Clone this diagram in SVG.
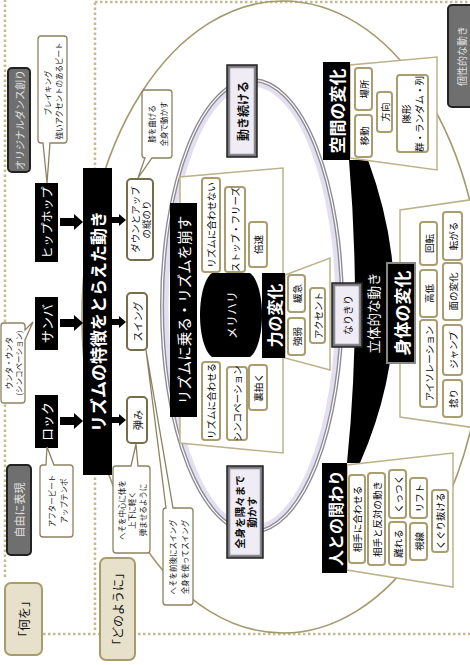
<svg xmlns="http://www.w3.org/2000/svg" width="470" height="665" viewBox="0 0 470 665">
<style>
text{font-family:"Noto Sans CJK JP","Noto Sans",sans-serif;text-anchor:middle;dominant-baseline:central}
.dot{fill:none;stroke:#c4ba92;stroke-width:2.5;stroke-dasharray:2.5 2.5}
.hdr{fill:#e7e1cb;stroke:#a99c6c;stroke-width:2}
.gray{fill:#6f6f6f;stroke:#222;stroke-width:2}
.blk{fill:#000}
.sub{fill:#fff;stroke:#776c4c;stroke-width:2}
.item{fill:#fff;stroke:#aa9d6f;stroke-width:2}
.trap{fill:#fff;stroke:#bcb28a;stroke-width:1.5}
.call{fill:#fff;stroke:#8c8262;stroke-width:1.3}
.b3d{fill:#77757e;stroke:#222;stroke-width:1.5}
.b3di{fill:#f0ecf6;stroke:#aaa;stroke-width:0.8}
.w{fill:#fff}
.lg{fill:#e2e2e2}
.k{fill:#111}
.f7{font-size:7.5px}.f9{font-size:9.5px}.f10{font-size:10px}.f11{font-size:11px}.f12{font-size:12px}.f13{font-size:13px}.f16{font-size:16px;font-weight:bold}.f17{font-size:17px;font-weight:bold}
.b{font-weight:bold}
</style>
<g transform="translate(0,665) rotate(-90)">
<g id="grid">
<line class="dot" x1="88" y1="5" x2="665" y2="5"/>
<line class="dot" x1="35" y1="95" x2="665" y2="95"/>
<line class="dot" x1="31" y1="43" x2="31" y2="470"/>
<line class="dot" x1="663" y1="95" x2="663" y2="470"/>
</g>
<g id="outer-ellipse"><ellipse cx="348" cy="283" rx="316" ry="201" fill="none" stroke="#a39a6e" stroke-width="1.6"/></g>
<g id="inner-ellipse">
<ellipse cx="359" cy="252" rx="222" ry="86" fill="none" stroke="#e4dff0" stroke-width="5"/>
<ellipse cx="359" cy="252" rx="226" ry="90" fill="none" stroke="#8e8c94" stroke-width="4"/>
<ellipse cx="359" cy="252" rx="226" ry="90" fill="none" stroke="#fff" stroke-width="1.2"/>
</g>
<g id="connectors">
<rect x="439" y="60" width="8" height="15" class="blk"/><polygon points="435,74 451,74 443,83" class="blk"/>
<rect x="338" y="60" width="8" height="15" class="blk"/><polygon points="334,74 350,74 342,83" class="blk"/>
<rect x="240" y="60" width="8" height="15" class="blk"/><polygon points="236,74 252,74 244,83" class="blk"/>
<rect x="442" y="112" width="6" height="8" class="blk"/><polygon points="439,119 451,119 445,126" class="blk"/>
<rect x="340" y="112" width="6" height="8" class="blk"/><polygon points="337,119 349,119 343,126" class="blk"/>
<rect x="242" y="112" width="6" height="8" class="blk"/><polygon points="239,119 251,119 245,126" class="blk"/>
</g>
<g id="rhythm-group">
<polygon class="trap" points="222,180 488,180 497,283 212,283"/>
<rect class="item" x="393" y="202" width="94" height="18" rx="3"/><text class="f9" x="440" y="211">リズムに合わせない</text>
<rect class="item" x="393" y="225" width="85" height="20" rx="3"/><text class="f9" x="435.5" y="235">ストップ・フリーズ</text>
<rect class="item" x="398" y="249" width="45" height="18" rx="3"/><text class="f9" x="420.5" y="258">倍速</text>
<rect class="item" x="225" y="202" width="78" height="18" rx="3"/><text class="f9" x="264" y="211">リズムに合わせる</text>
<rect class="item" x="225" y="227" width="73" height="20" rx="3"/><text class="f9" x="261.5" y="237">シンコペーション</text>
<rect class="item" x="255" y="249" width="45" height="18" rx="3"/><text class="f9" x="277.5" y="258">裏拍く</text>
<rect class="blk" x="248" y="170" width="214" height="27"/><text class="w" style="font-size:14.5px" x="355" y="183.5">リズムに乗る・リズムを崩す</text>
</g>
<g id="merihari"><path class="blk" d="M308,212 C320,196 380,196 392,212 L392,250 C380,266 320,266 308,250 Z"/><text class="w f12" x="350" y="231">メリハリ</text></g>
<g id="power">
<polygon class="trap" points="307,285 390,285 407,330 295,330"/>
<rect class="item" x="310" y="288" width="37" height="17" rx="3"/><text class="f9" x="328.5" y="296.5">強弱</text>
<rect class="item" x="353" y="288" width="37" height="17" rx="3"/><text class="f9" x="371.5" y="296.5">緩急</text>
<rect class="item" x="322" y="310" width="55" height="15" rx="3"/><text class="f9" x="349.5" y="317.5">アクセント</text>
<rect class="blk" x="307" y="262" width="85" height="23"/><text class="w f16" x="349.5" y="273.5">力の変化</text>
</g>
<g id="band"><path class="blk" d="M505,349 L505,368 Q350,425 202,360 L202,347 Q350,362 505,349 Z"/><text class="w" style="font-size:13.5px" x="352" y="373">立体的な動き</text></g>
<g id="space">
<polygon class="trap" points="507,350 600,350 608,437 495,437"/>
<rect class="item" x="508" y="355" width="42" height="17" rx="3"/><text class="f9" x="529" y="363.5">移動</text>
<rect class="item" x="555" y="355" width="42" height="17" rx="3"/><text class="f9" x="576" y="363.5">場所</text>
<rect class="item" x="533" y="377" width="40" height="15" rx="3"/><text class="f9" x="553" y="384.5">方向</text>
<rect class="item" x="513" y="397" width="77" height="31" rx="3"/><text class="f9" x="551" y="406">隊形</text><text class="f9" x="551" y="419">群・ランダム・列</text>
<rect class="blk" x="505" y="323" width="98" height="27"/><text class="w f17" x="554" y="336.5">空間の変化</text>
</g>
<g id="body">
<polygon class="trap" points="248,400 455,400 466,476 237,476"/>
<rect class="item" x="400" y="420" width="43" height="17" rx="3"/><text class="f9" x="421.5" y="428.5">回転</text>
<rect class="item" x="348" y="420" width="47" height="17" rx="3"/><text class="f9" x="371.5" y="428.5">高低</text>
<rect class="item" x="258" y="420" width="87" height="17" rx="3"/><text class="f9" x="301.5" y="428.5">アイソレーション</text>
<rect class="item" x="405" y="443" width="48" height="19" rx="3"/><text class="f9" x="429" y="452.5">転がる</text>
<rect class="item" x="345" y="443" width="57" height="19" rx="3"/><text class="f9" x="373.5" y="452.5">面の変化</text>
<rect class="item" x="290" y="443" width="50" height="19" rx="3"/><text class="f9" x="315" y="452.5">ジャンプ</text>
<rect class="item" x="248" y="443" width="37" height="19" rx="3"/><text class="f9" x="266.5" y="452.5">捻り</text>
<rect class="blk" x="302" y="387" width="100" height="28" stroke="#888" stroke-width="2"/><text class="w f17" x="352" y="401">身体の変化</text>
</g>
<g id="people">
<polygon class="trap" points="95,347 200,347 212,453 78,453"/>
<rect class="item" x="102" y="349" width="88" height="16" rx="3"/><text class="f9" x="146" y="357">相手に合わせる</text>
<rect class="item" x="100" y="368" width="92" height="17" rx="3"/><text class="f9" x="146" y="376.5">相手と反対の動き</text>
<rect class="item" x="100" y="389" width="43" height="17" rx="3"/><text class="f9" x="121.5" y="397.5">離れる</text>
<rect class="item" x="147" y="389" width="48" height="17" rx="3"/><text class="f9" x="171" y="397.5">くっつく</text>
<rect class="item" x="105" y="410" width="37" height="17" rx="3"/><text class="f9" x="123.5" y="418.5">視線</text>
<rect class="item" x="147" y="410" width="40" height="17" rx="3"/><text class="f9" x="167" y="418.5">リフト</text>
<rect class="item" x="113" y="432" width="62" height="16" rx="3"/><text class="f9" x="144" y="440">くぐり抜ける</text>
<rect class="blk" x="92" y="322" width="110" height="25"/><text class="w f16" x="147" y="334.5">人との関わり</text>
</g>
<g id="keep-moving"><rect class="b3d" x="508" y="227" width="92" height="30"/><rect class="b3di" x="511" y="230" width="86" height="24"/><text class="k f12 b" x="554" y="242">動き続ける</text></g>
<g id="whole-body"><rect class="b3d" x="107" y="227" width="92" height="36"/><rect class="b3di" x="110" y="230" width="86" height="30"/><text class="k b" style="font-size:10.5px" x="153" y="239">全身を隅々まで</text><text class="k b" style="font-size:10.5px" x="153" y="251">動かす</text></g>
<g id="narikiri"><rect class="b3d" x="318" y="332" width="64" height="30"/><rect class="b3di" x="321" y="335" width="58" height="24"/><text class="k f10" x="350" y="347">なりきり</text></g>
<g id="headers">
<rect class="hdr" x="10" y="5" width="72" height="37" rx="6"/><text class="k f12" x="46" y="23.5">「何を」</text>
<rect class="hdr" x="5" y="100" width="102" height="35" rx="6"/><text class="k f12" x="56" y="117.5">「どのように」</text>
</g>
<g id="original"><rect class="gray" x="493" y="8" width="104" height="22" rx="4"/><text class="lg f10" x="545" y="19">オリジナルダンス創り</text></g>
<g id="free"><rect class="gray" x="110" y="7" width="90" height="24" rx="4"/><text class="lg f11" x="155" y="19">自由に表現</text></g>
<g id="individual"><rect class="gray" x="558" y="448" width="102" height="28" rx="4"/><text class="lg f10" x="609" y="461">個性的な動き</text></g>
<g id="hiphop"><rect class="blk" x="403" y="35" width="79" height="23"/><text class="w f12" x="442.5" y="46.5">ヒップホップ</text></g>
<g id="samba"><rect class="blk" x="315" y="35" width="53" height="23"/><text class="w f13" x="341.5" y="46.5">サンバ</text></g>
<g id="rock"><rect class="blk" x="217" y="35" width="53" height="23"/><text class="w f13" x="243.5" y="46.5">ロック</text></g>
<g id="main-bar"><rect class="blk" x="190" y="83" width="307" height="29"/><text class="w f17" x="343.5" y="97.5">リズムの特徴をとらえた動き</text></g>
<g id="downup"><rect class="sub" x="405" y="127" width="81" height="26" rx="4"/><text class="k f9" x="445.5" y="135">ダウンとアップ</text><text class="k f9" x="445.5" y="146">の縦のり</text></g>
<g id="swing"><rect class="sub" x="315" y="127" width="57" height="20" rx="4"/><text class="k f10" x="343.5" y="137">スイング</text></g>
<g id="bounce"><rect class="sub" x="222" y="127" width="46" height="20" rx="4"/><text class="k f10" x="245" y="137">弾み</text></g>
<g id="callout-hiphop"><path class="call" d="M525,38 H626 Q629,38 629,41 V64 Q629,67 626,67 H525 Q522,67 522,64 V50 L482,47 L522,43 V41 Q522,38 525,38 Z"/><text class="k f7" x="572" y="47">ブレイキング</text><text class="k f7" x="574" y="58">強いアクセントのあるビート</text></g>
<g id="callout-samba"><path class="call" d="M265,1 H339 Q342,1 342,4 V22 Q342,25 339,25 H335 L343,33 L325,25 H265 Q262,25 262,22 V4 Q262,1 265,1 Z"/><text class="k f7" x="302" y="8">ウンタ・ウンタ</text><text class="k f7" x="302" y="18">(シンコペーション)</text></g>
<g id="callout-rock"><path class="call" d="M131,40 H197 Q200,40 200,43 V46 L218,47 L200,54 V70 Q200,73 197,73 H131 Q128,73 128,70 V43 Q128,40 131,40 Z"/><text class="k f7" x="164" y="51">アフタービート</text><text class="k f7" x="164" y="63">アップテンポ</text></g>
<g id="callout-downup"><path class="call" d="M510,142 H572 Q575,142 575,145 V169 Q575,172 572,172 H510 Q507,172 507,169 V152 L487,138 L507,145 Q507,142 510,142 Z"/><text class="k f7" x="541" y="151">膝を曲げる</text><text class="k f7" x="541" y="163">全身で動かす</text></g>
<g id="callout-bounce"><path class="call" d="M115,113 H196 Q199,113 199,116 V131 L221,136 L199,138 V147 Q199,150 196,150 H115 Q112,150 112,147 V116 Q112,113 115,113 Z"/><text class="k f7" x="155" y="121">へそを中心に体を</text><text class="k f7" x="155" y="131">上下に軽く</text><text class="k f7" x="155" y="142">弾ませるように</text></g>
<g id="callout-swing"><path class="call" d="M63,163 H154 Q157,163 157,166 L315,146 L157,173 V190 Q157,193 154,193 H63 Q60,193 60,190 V166 Q60,163 63,163 Z"/><text class="k f7" x="108" y="172">へそを前後にスイング</text><text class="k f7" x="108" y="184">全身を使ってスイング</text></g>
</g>
</svg>
